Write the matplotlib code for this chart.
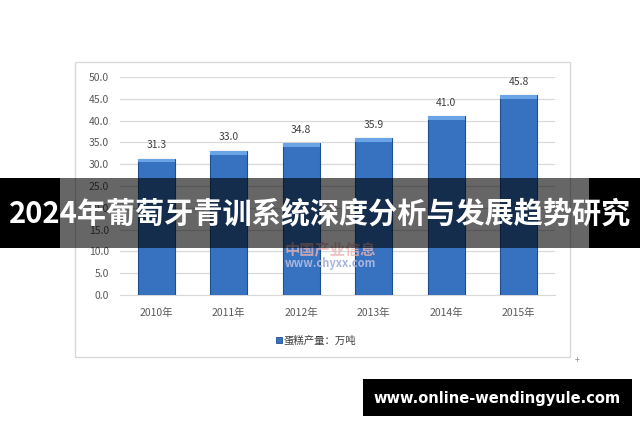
import matplotlib
matplotlib.use("Agg")
import matplotlib.pyplot as plt
from matplotlib.patches import Rectangle

plt.rcParams['font.family'] = ['Noto Sans CJK SC', 'DejaVu Sans']

categories = ["2010年", "2011年", "2012年", "2013年", "2014年", "2015年"]
values = [31.3, 33.0, 34.8, 35.9, 41.0, 45.8]
yticks = [0, 5, 10, 15, 20, 25, 30, 35, 40, 45, 50]
legend_label = "蛋糕产量：万吨"
title = "2024年葡萄牙青训系统深度分析与发展趋势研究"
site = "www.online-wendingyule.com"

W, H = 640, 426
fig = plt.figure(figsize=(6.4, 4.26), dpi=100)
fig.patch.set_facecolor("white")

def fx(px):
    return px / W

def fy(py):
    return 1 - py / H

# chart frame
fig.patches.append(Rectangle((fx(75), fy(357)), fx(570) - fx(75), fy(62) - fy(357),
                             transform=fig.transFigure, fill=False, edgecolor="#d9d9d9", lw=1, zorder=0))

ax = fig.add_axes([fx(120), fy(295), fx(555) - fx(120), fy(77) - fy(295)])
ax.set_facecolor("none")
x = list(range(len(categories)))
ax.bar(x, values, width=0.51, color="#3672c0", edgecolor="#1f4f8f", linewidth=0.8, zorder=3)
for xi, v in zip(x, values):
    ax.bar(xi, 0.9, bottom=v - 0.9, width=0.51, color="#6aa3e6", edgecolor="none", zorder=4)
    ax.text(xi, v + 2.0, f"{v:.1f}", ha="center", va="bottom", fontsize=7.5, color="#404040", zorder=5)

ax.set_xlim(-0.5, len(categories) - 0.5)
ax.set_ylim(0, 50)
ax.set_yticks(yticks)
ax.set_yticklabels([f"{t:.1f}" for t in yticks], fontsize=7.5, color="#595959")
ax.set_xticks(x)
ax.set_xticklabels(categories, fontsize=7.5, color="#595959")
ax.tick_params(length=0, pad=8)
ax.tick_params(axis="x", pad=9)
ax.grid(axis="y", color="#d9d9d9", lw=0.9, zorder=0)
for s in ["top", "right", "left"]:
    ax.spines[s].set_visible(False)
ax.spines["bottom"].set_color("#d9d9d9")

# legend
fig.patches.append(Rectangle((fx(276), fy(343)), fx(6), fy(337) - fy(343),
                             transform=fig.transFigure, facecolor="#3672c0", edgecolor="#1f4f8f", lw=0.6))
fig.text(fx(284), fy(340), legend_label, fontsize=7.5, color="#404040", va="center", ha="left")

# watermark
fig.text(fx(330), fy(250), "中国产业信息", fontsize=11, color="#e8b4b4", ha="center", va="center", alpha=0.8, weight="bold")
fig.text(fx(330), fy(264), "www.chyxx.com", fontsize=8, color="#a8b4dc", ha="center", va="center", weight="bold")

fig.text(fx(577), fy(361), "+", fontsize=6, color="#888888", ha="center", va="center")

# overlay band
fig.patches.append(Rectangle((0, fy(248)), 1, fy(178) - fy(248), transform=fig.transFigure,
                             facecolor="black", edgecolor="none", alpha=0.6, zorder=10))
fig.patches.append(Rectangle((0, fy(248)), fx(60), fy(178) - fy(248), transform=fig.transFigure,
                             facecolor="black", edgecolor="none", zorder=10))
fig.patches.append(Rectangle((fx(589), fy(248)), 1 - fx(589), fy(178) - fy(248), transform=fig.transFigure,
                             facecolor="black", edgecolor="none", zorder=10))
fig.text(fx(320), fy(213), title, fontsize=21, color="white", weight="bold", ha="center", va="center", zorder=11)

# bottom site box
fig.patches.append(Rectangle((fx(363), fy(416)), fx(632) - fx(363), fy(379) - fy(416), transform=fig.transFigure,
                             facecolor="black", edgecolor="none", zorder=10))
fig.text(fx(497), fy(398), site, fontsize=10.5, color="white", weight="bold", ha="center", va="center", zorder=11,
         family=["DejaVu Sans"])

fig.savefig("out.png", dpi=100)
